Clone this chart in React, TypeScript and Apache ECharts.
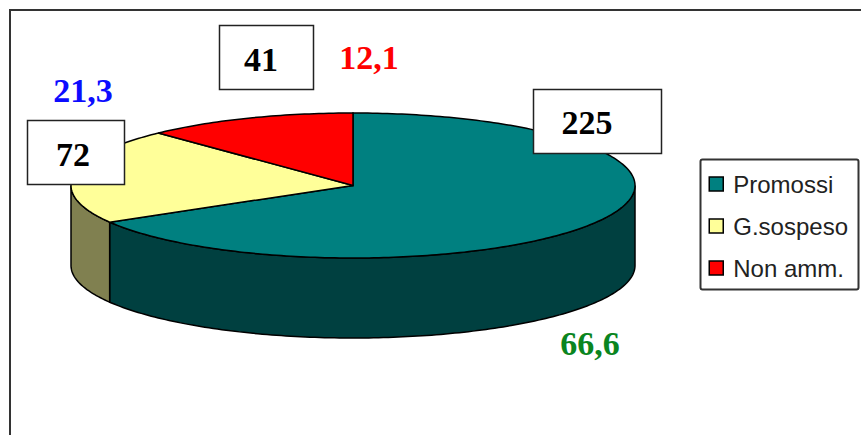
import React, { useEffect, useRef } from "react";
import * as echarts from "echarts";

const categories = ["Promossi", "G.sospeso", "Non amm."];
const counts = [225, 72, 41];
const percents = ["66,6", "21,3", "12,1"];
const topColors = ["#008080", "#FFFF99", "#FF0000"];
const sideColors = ["#004040", "#808050", "#800000"];
const percentColors = ["#0A8520", "#0C0CFF", "#FF0000"];

const CX = 353;
const CY = 185.5;
const RX = 282;
const RY = 72.5;
const DEPTH = 80;
const total = counts.reduce((a, b) => a + b, 0);

const pt = (deg: number, dy = 0): number[] => {
  const r = (deg * Math.PI) / 180;
  return [CX + RX * Math.sin(r), CY - RY * Math.cos(r) + dy];
};

const arc = (a0: number, a1: number, dy = 0): number[][] => {
  const pts: number[][] = [];
  const n = Math.max(2, Math.ceil(Math.abs(a1 - a0)));
  for (let i = 0; i <= n; i++) pts.push(pt(a0 + ((a1 - a0) * i) / n, dy));
  return pts;
};

const boxes = [
  { x: 533.5, y: 89.5, w: 128, h: 64, tx: 587, ty: 122 },
  { x: 27.5, y: 120.5, w: 97, h: 64, tx: 73, ty: 154 },
  { x: 219.5, y: 25.5, w: 94, h: 64, tx: 261, ty: 59 },
];
const percentPos = [
  [590, 343],
  [83, 90],
  [369, 57],
];

export default function App() {
  const ref = useRef<HTMLDivElement>(null);
  useEffect(() => {
    const chart = echarts.init(ref.current!, undefined, { renderer: "svg" });
    let cum = 0;
    const series = categories.map((name, i) => {
      const start = cum;
      cum += counts[i];
      return {
        type: "custom",
        name,
        coordinateSystem: "none",
        silent: true,
        itemStyle: { color: topColors[i] },
        data: [[counts[i], start]],
        renderItem: (_p: any, api: any) => {
          const a0 = (api.value(1) / total) * 360;
          const a1 = a0 + (api.value(0) / total) * 360;
          const children: any[] = [];
          const f0 = Math.max(a0, 90);
          const f1 = Math.min(a1, 270);
          if (f1 > f0) {
            children.push({
              type: "polygon",
              shape: { points: [...arc(f0, f1), ...arc(f1, f0, DEPTH)] },
              style: { fill: sideColors[i], stroke: "#000", lineWidth: 1.5 },
            });
          }
          children.push({
            type: "polygon",
            shape: { points: [[CX, CY], ...arc(a0, a1)] },
            style: { fill: topColors[i], stroke: "#000", lineWidth: 1.5 },
          });
          return { type: "group", children };
        },
      };
    });

    const graphic: any[] = [
      {
        type: "polyline",
        z: 1,
        shape: { points: [[10, 435], [10, 10], [861, 10]] },
        style: { fill: "none", stroke: "#333", lineWidth: 2 },
      },
      {
        type: "rect",
        z: 1,
        shape: { x: 700.5, y: 159.5, width: 158, height: 130, r: 2 },
        style: { fill: "#fff", stroke: "#333", lineWidth: 2 },
      },
    ];
    categories.forEach((_, i) => {
      const b = boxes[i];
      graphic.push(
        {
          type: "rect",
          z: 20,
          shape: { x: b.x, y: b.y, width: b.w, height: b.h },
          style: { fill: "#fff", stroke: "#222", lineWidth: 1.5 },
        },
        {
          type: "text",
          z: 21,
          x: b.tx,
          y: b.ty,
          style: {
            text: String(counts[i]),
            fill: "#000",
            font: 'bold 34px "Liberation Serif"',
            align: "center",
            verticalAlign: "middle",
          },
        },
        {
          type: "text",
          z: 21,
          x: percentPos[i][0],
          y: percentPos[i][1],
          style: {
            text: percents[i],
            fill: percentColors[i],
            font: 'bold 34px "Liberation Serif"',
            align: "center",
            verticalAlign: "middle",
          },
        },
      );
    });

    chart.setOption({
      animation: false,
      backgroundColor: "#fff",
      graphic,
      legend: {
        orient: "vertical",
        left: 708.5,
        top: 172,
        padding: 0,
        itemWidth: 24,
        itemHeight: 14,
        itemGap: 18,
        selectedMode: false,
        textStyle: { fontFamily: "Liberation Sans", fontSize: 24, color: "#222" },
        data: categories.map((name, i) => ({
          name,
          icon: "path://M0 0H14V14H0Z",
          itemStyle: { color: topColors[i], borderColor: "#000", borderWidth: 1.5 },
        })),
      },
      series,
    });
    return () => chart.dispose();
  }, []);
  return (
    <div
      ref={ref}
      style={{ position: "fixed", left: 0, top: 0, width: 861, height: 435 }}
    />
  );
}
